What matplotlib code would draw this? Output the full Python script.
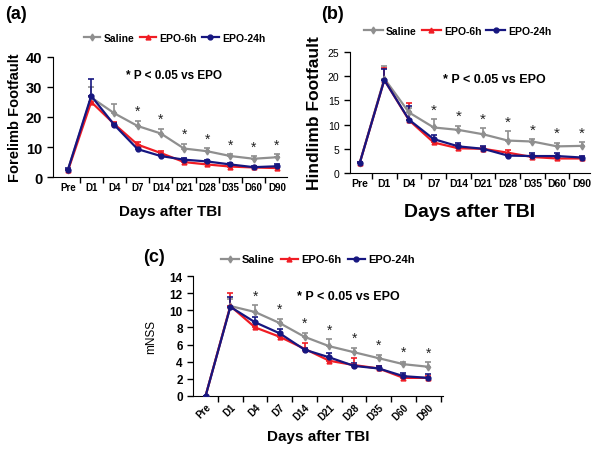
import matplotlib

matplotlib.use("Agg")

import matplotlib.pyplot as plt
from matplotlib.lines import Line2D
from matplotlib.ticker import FixedLocator, NullFormatter

plt.rcParams["font.family"] = ["Liberation Sans", "DejaVu Sans"]

DAYS = ["Pre", "D1", "D4", "D7", "D14", "D21", "D28", "D35", "D60", "D90"]

# (a) forelimb footfault
FORE_SALINE = [2.5, 26.5, 21.2, 17.0, 14.5, 9.5, 8.6, 7.0, 6.1, 6.6]
FORE_SALINE_ERR = [0.3, 3.5, 3.0, 1.8, 1.5, 1.6, 1.0, 0.6, 0.8, 1.0]
FORE_EPO6 = [2.2, 25.0, 17.6, 10.8, 8.0, 5.0, 4.2, 3.5, 3.2, 3.0]
FORE_EPO6_ERR = [0.3, 2.0, 0.8, 1.0, 0.8, 0.6, 0.5, 0.5, 0.3, 0.4]
FORE_EPO24 = [2.5, 27.0, 17.3, 9.3, 7.0, 5.8, 5.2, 4.2, 3.3, 3.6]
FORE_EPO24_ERR = [0.4, 5.5, 0.8, 0.6, 0.6, 0.5, 0.6, 0.5, 0.4, 0.6]
FORE_STARS = ["D7", "D14", "D21", "D28", "D35", "D60", "D90"]

# (b) hindlimb footfault
HIND_SALINE = [2.0, 19.5, 12.5, 9.4, 8.9, 8.0, 6.7, 6.5, 5.5, 5.6]
HIND_SALINE_ERR = [0.3, 2.5, 1.0, 1.7, 0.8, 1.2, 1.9, 0.5, 0.7, 0.7]
HIND_EPO6 = [2.0, 19.2, 10.9, 6.3, 5.1, 5.0, 4.2, 3.3, 3.0, 3.0]
HIND_EPO6_ERR = [0.3, 2.5, 3.6, 0.6, 0.6, 0.4, 0.5, 0.4, 0.4, 0.3]
HIND_EPO24 = [2.0, 19.2, 11.0, 7.0, 5.5, 5.0, 3.6, 3.5, 3.5, 3.2]
HIND_EPO24_ERR = [0.3, 2.3, 2.8, 0.8, 0.7, 0.6, 0.4, 0.6, 0.6, 0.4]
HIND_STARS = ["D7", "D14", "D21", "D28", "D35", "D60", "D90"]

# (c) mNSS
MNSS_SALINE = [0.0, 10.5, 9.8, 8.5, 6.9, 5.8, 5.1, 4.4, 3.7, 3.4]
MNSS_SALINE_ERR = [0.0, 0.8, 0.8, 0.5, 0.5, 0.8, 0.5, 0.4, 0.3, 0.5]
MNSS_EPO6 = [0.0, 10.5, 8.0, 6.9, 5.5, 4.1, 3.6, 3.2, 2.1, 2.1]
MNSS_EPO6_ERR = [0.0, 1.5, 0.3, 0.3, 0.7, 0.4, 0.8, 0.3, 0.2, 0.2]
MNSS_EPO24 = [0.0, 10.4, 8.6, 7.3, 5.4, 4.5, 3.5, 3.2, 2.3, 2.1]
MNSS_EPO24_ERR = [0.0, 1.1, 0.6, 0.5, 0.2, 0.5, 0.3, 0.3, 0.4, 0.4]
MNSS_STARS = ["D4", "D7", "D14", "D21", "D28", "D35", "D60", "D90"]

GRAY = "#8f8f8f"
RED = "#f01c24"
NAVY = "#161680"

STYLES = [
    ("Saline", GRAY, "d"),
    ("EPO-6h", RED, "^"),
    ("EPO-24h", NAVY, "o"),
]


def draw_panel(ax, series, stars, star_size):
    x = list(range(len(DAYS)))
    for (name, color, mk), (vals, errs) in zip(STYLES, series):
        ax.errorbar(x, vals, yerr=[[0] * len(errs), errs], color=color, lw=1.6,
                    marker=mk, ms=3.5, capsize=2.2, elinewidth=1.2, capthick=1.2,
                    zorder=3)
    sal, sal_err = series[0]
    for d in stars:
        i = DAYS.index(d)
        ax.annotate("*", (i, sal[i] + sal_err[i]), xytext=(0, 2), textcoords="offset points",
                    ha="center", va="bottom", fontsize=star_size, color="#222222")
    for s in ("top", "right"):
        ax.spines[s].set_visible(False)
    ax.tick_params(axis="y", direction="out", length=4, width=1)
    ax.set_xticks(x)
    ax.xaxis.set_minor_locator(FixedLocator([i + 0.5 for i in range(len(DAYS))]))
    ax.xaxis.set_minor_formatter(NullFormatter())
    ax.tick_params(axis="x", which="major", length=0)
    ax.tick_params(axis="x", which="minor", direction="out", length=4, width=1)


def add_legend(ax, anchor, size, hl):
    handles = [Line2D([], [], color=c, marker=m, ms=3.5, lw=1.6, label=n) for n, c, m in STYLES]
    ax.legend(handles=handles, loc="lower center", bbox_to_anchor=anchor, ncol=3, frameon=False,
              prop={"weight": "bold", "size": size}, handlelength=hl,
              handletextpad=0.3, columnspacing=0.5, borderaxespad=0)


fig = plt.figure(figsize=(6.02, 4.52), dpi=100, facecolor="white")

# panel (a)
ax_a = fig.add_axes([0.0875, 0.606, 0.389, 0.266])
draw_panel(ax_a, [(FORE_SALINE, FORE_SALINE_ERR), (FORE_EPO6, FORE_EPO6_ERR),
                  (FORE_EPO24, FORE_EPO24_ERR)], FORE_STARS, 10)
ax_a.set_xlim(-0.66, 9.43)
ax_a.set_ylim(0, 40)
ax_a.set_yticks([0, 10, 20, 30, 40])
ax_a.set_xticklabels(DAYS, fontsize=7, fontweight="bold")
for t in ax_a.get_yticklabels():
    t.set_fontsize(10.5)
    t.set_fontweight("bold")
ax_a.set_ylabel("Forelimb Footfault", fontsize=10.5, fontweight="bold", labelpad=3)
ax_a.set_xlabel("Days after TBI", fontsize=11, fontweight="bold", labelpad=9)
ax_a.text(0.52, 0.85, "* P < 0.05 vs EPO", transform=ax_a.transAxes, ha="center",
          va="center", fontsize=8.5, fontweight="bold")
add_legend(ax_a, (0.52, 1.08), 7.5, 1.6)
fig.text(0.008, 0.968, "(a)", fontsize=13, fontweight="bold", va="center")

# panel (b)
ax_b = fig.add_axes([0.581, 0.615, 0.399, 0.268])
draw_panel(ax_b, [(HIND_SALINE, HIND_SALINE_ERR), (HIND_EPO6, HIND_EPO6_ERR),
                  (HIND_EPO24, HIND_EPO24_ERR)], HIND_STARS, 11)
ax_b.set_xlim(-0.4, 9.33)
ax_b.set_ylim(0, 25)
ax_b.set_yticks([0, 5, 10, 15, 20, 25])
ax_b.set_xticklabels(DAYS, fontsize=7.5, fontweight="bold")
for t in ax_b.get_yticklabels():
    t.set_fontsize(7.5)
ax_b.set_ylabel("Hindlimb Footfault", fontsize=12.5, fontweight="bold", labelpad=4)
ax_b.set_xlabel("Days after TBI", fontsize=14, fontweight="bold", labelpad=11)
ax_b.text(0.6, 0.78, "* P < 0.05 vs EPO", transform=ax_b.transAxes, ha="center",
          va="center", fontsize=9, fontweight="bold")
add_legend(ax_b, (0.45, 1.1), 7.5, 1.8)
fig.text(0.533, 0.968, "(b)", fontsize=13, fontweight="bold", va="center")

# panel (c)
ax_c = fig.add_axes([0.321, 0.122, 0.415, 0.265])
draw_panel(ax_c, [(MNSS_SALINE, MNSS_SALINE_ERR), (MNSS_EPO6, MNSS_EPO6_ERR),
                  (MNSS_EPO24, MNSS_EPO24_ERR)], MNSS_STARS, 10)
ax_c.set_xlim(-0.5, 9.6)
ax_c.set_ylim(0, 14)
ax_c.set_yticks(range(0, 15, 2))
ax_c.set_xticklabels(DAYS, fontsize=7, fontweight="bold", rotation=45, ha="right",
                     rotation_mode="anchor")
ax_c.tick_params(axis="x", which="major", pad=4)
for t in ax_c.get_yticklabels():
    t.set_fontsize(8.5)
    t.set_fontweight("bold")
ax_c.set_ylabel("mNSS", fontsize=8.5, labelpad=9)
ax_c.set_xlabel("Days after TBI", fontsize=11, fontweight="bold", labelpad=6)
ax_c.text(0.62, 0.83, "* P < 0.05 vs EPO", transform=ax_c.transAxes, ha="center",
          va="center", fontsize=9, fontweight="bold")
add_legend(ax_c, (0.5, 1.06), 8, 1.6)
fig.text(0.237, 0.43, "(c)", fontsize=13, fontweight="bold", va="center")

fig.savefig("out.png", dpi=100, facecolor="white")
